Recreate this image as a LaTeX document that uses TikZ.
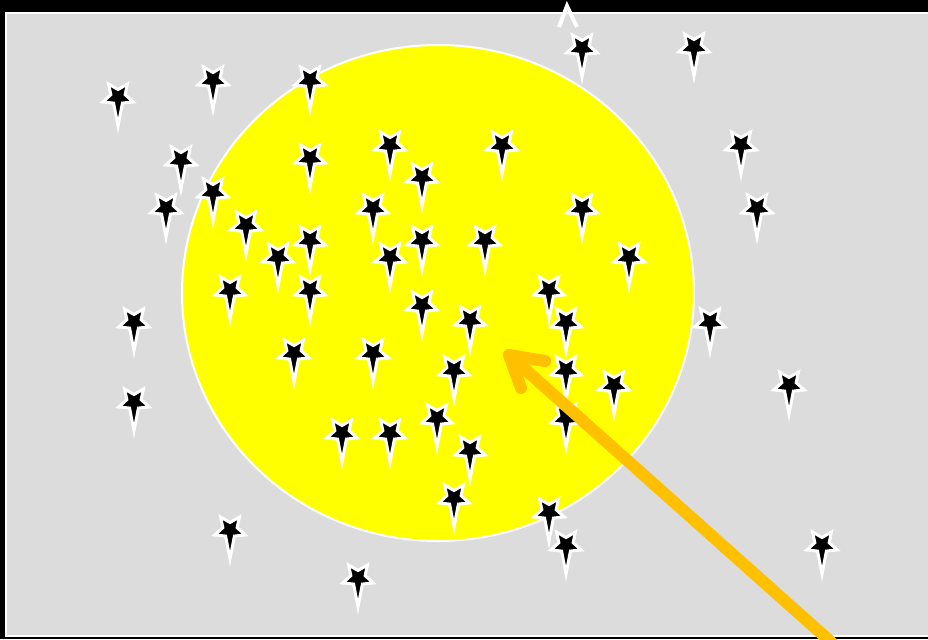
\documentclass[tikz,border=0pt]{standalone}
\usetikzlibrary{calc}
\definecolor{panelgrey}{RGB}{220,220,220}
\definecolor{discyellow}{RGB}{255,255,0}
\definecolor{arroworange}{RGB}{255,192,0}

\begin{document}
\begin{tikzpicture}[
			x=0.3mm, y=-0.3mm,
			panel/.style={fill=panelgrey, draw=white, line width=0.6mm},
			disc/.style={fill=discyellow, draw=white, line width=0.6mm},
			pointer/.style={draw=arroworange, line width=3.6mm, line cap=round, line join=round},
			blackstar/.pic={
				\path[fill=black, draw=white, line width=0.9mm, miter limit=10]
					(90:29) -- (126:7.5) -- (162:16) -- (198:7.5) -- (234:16) -- (270:7.5)
					-- (306:16) -- (342:7.5) -- (18:16) -- (54:7.5) -- cycle;
			}
			]
			
			\useasboundingbox[fill=black] (0,0) rectangle (928,639);
			\path[panel] (6,13) rectangle (940,636);
			\path[disc] (438,293) ellipse [x radius=256, y radius=248];
			\draw[white, line width=1.2mm] (559,27) -- (567,6) -- (577,27);
			
			% stars
			\foreach \sx/\sy in {118/97, 213/80, 310/80, 582/48, 694/47, 181/160, 310/158, 390/145,
				502/145, 422/177, 741/145, 166/208, 213/192, 246/225, 373/208, 582/208, 757/208,
				310/240, 422/240, 485/240, 278/257, 390/257, 629/257, 230/290, 310/290, 549/290,
				422/305, 470/320, 566/322, 134/322, 710/322, 294/353, 373/353, 454/370, 566/370,
				614/385, 789/385, 134/402, 342/433, 390/433, 437/418, 566/418, 470/450, 454/498,
				549/512, 566/545, 230/530, 358/578, 822/545}
				\pic at (\sx,\sy) {blackstar};
			
			\coordinate (tail) at (850,659);
			\coordinate (tip) at (509,355);
			\draw[pointer] (tail) -- (tip);
			\draw[pointer] ($(tip)+(36,6)$) -- (tip) -- ($(tip)+(12,33)$);
		\end{tikzpicture}
\end{document}
